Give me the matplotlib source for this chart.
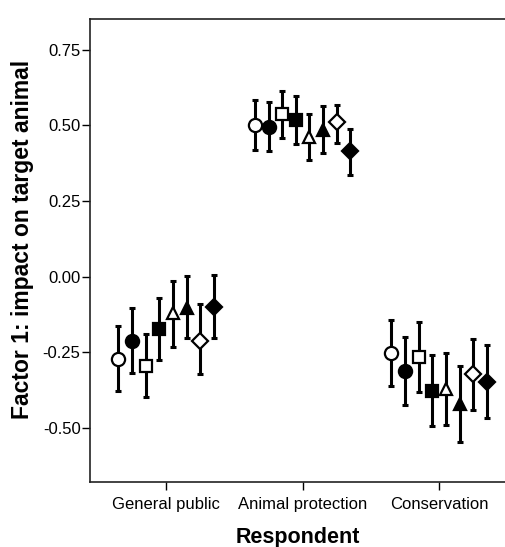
import numpy as np
import matplotlib.pyplot as plt

plt.rcParams['font.family'] = ['Liberation Sans', 'DejaVu Sans']

groups = ["General public", "Animal protection", "Conservation"]
markers = ["o", "o", "s", "s", "^", "^", "D", "D"]
filled = [False, True, False, True, False, True, False, True]

# mean and CI limits, one row per group, one column per series
means = np.array([
    [-0.272, -0.212, -0.295, -0.173, -0.121, -0.102, -0.213, -0.099],
    [0.502, 0.495, 0.537, 0.517, 0.461, 0.486, 0.510, 0.416],
    [-0.253, -0.312, -0.265, -0.377, -0.373, -0.422, -0.323, -0.348],
])
upper = np.array([
    [-0.162, -0.103, -0.190, -0.071, -0.014, 0.003, -0.092, 0.006],
    [0.584, 0.577, 0.615, 0.597, 0.537, 0.563, 0.566, 0.489],
    [-0.143, -0.199, -0.151, -0.258, -0.253, -0.296, -0.205, -0.226],
])
lower = np.array([
    [-0.377, -0.318, -0.397, -0.276, -0.231, -0.203, -0.323, -0.203],
    [0.419, 0.414, 0.460, 0.439, 0.386, 0.410, 0.443, 0.337],
    [-0.362, -0.423, -0.380, -0.495, -0.492, -0.547, -0.442, -0.468],
])

offsets = np.linspace(-0.35, 0.35, 8)
sizes = {"o": 9.5, "s": 9, "^": 9, "D": 8.5}

fig = plt.figure(figsize=(5.06, 5.47), dpi=100)
ax = fig.add_axes([90.3 / 506, 65.3 / 547, 416 / 506, 462.4 / 547])

x = np.arange(len(groups))
for j in range(8):
    xs = x + offsets[j]
    ax.errorbar(xs, means[:, j],
                yerr=[means[:, j] - lower[:, j], upper[:, j] - means[:, j]],
                fmt="none", ecolor="black", elinewidth=2.2, capsize=2.5,
                capthick=2.2, zorder=2)
    ax.plot(xs, means[:, j], linestyle="none", marker=markers[j],
            markersize=sizes[markers[j]],
            markerfacecolor="black" if filled[j] else "white",
            markeredgecolor="black", markeredgewidth=1.6, zorder=3)

ax.set_xlim(-0.555, 2.491)
ax.set_ylim(-0.678, 0.851)
ax.set_xticks(x)
ax.set_xticklabels(groups)
ax.set_yticks([-0.5, -0.25, 0, 0.25, 0.5, 0.75])
ax.set_yticklabels(["-0.50", "-0.25", "0.00", "0.25", "0.50", "0.75"])
ax.tick_params(direction="out", length=6, width=1, labelsize=12, pad=1)
ax.tick_params(axis="x", pad=5)
ax.spines["right"].set_visible(False)
for s in ["left", "bottom", "top"]:
    ax.spines[s].set_linewidth(1.2)
    ax.spines[s].set_color("#222222")

ax.set_xlabel("Respondent", fontsize=15.5, fontweight="bold", labelpad=11)
ax.set_ylabel("Factor 1: impact on target animal", fontsize=16.5,
              fontweight="bold")
ax.yaxis.set_label_coords(-0.136, 0.523)

fig.savefig("out.png", dpi=100)
